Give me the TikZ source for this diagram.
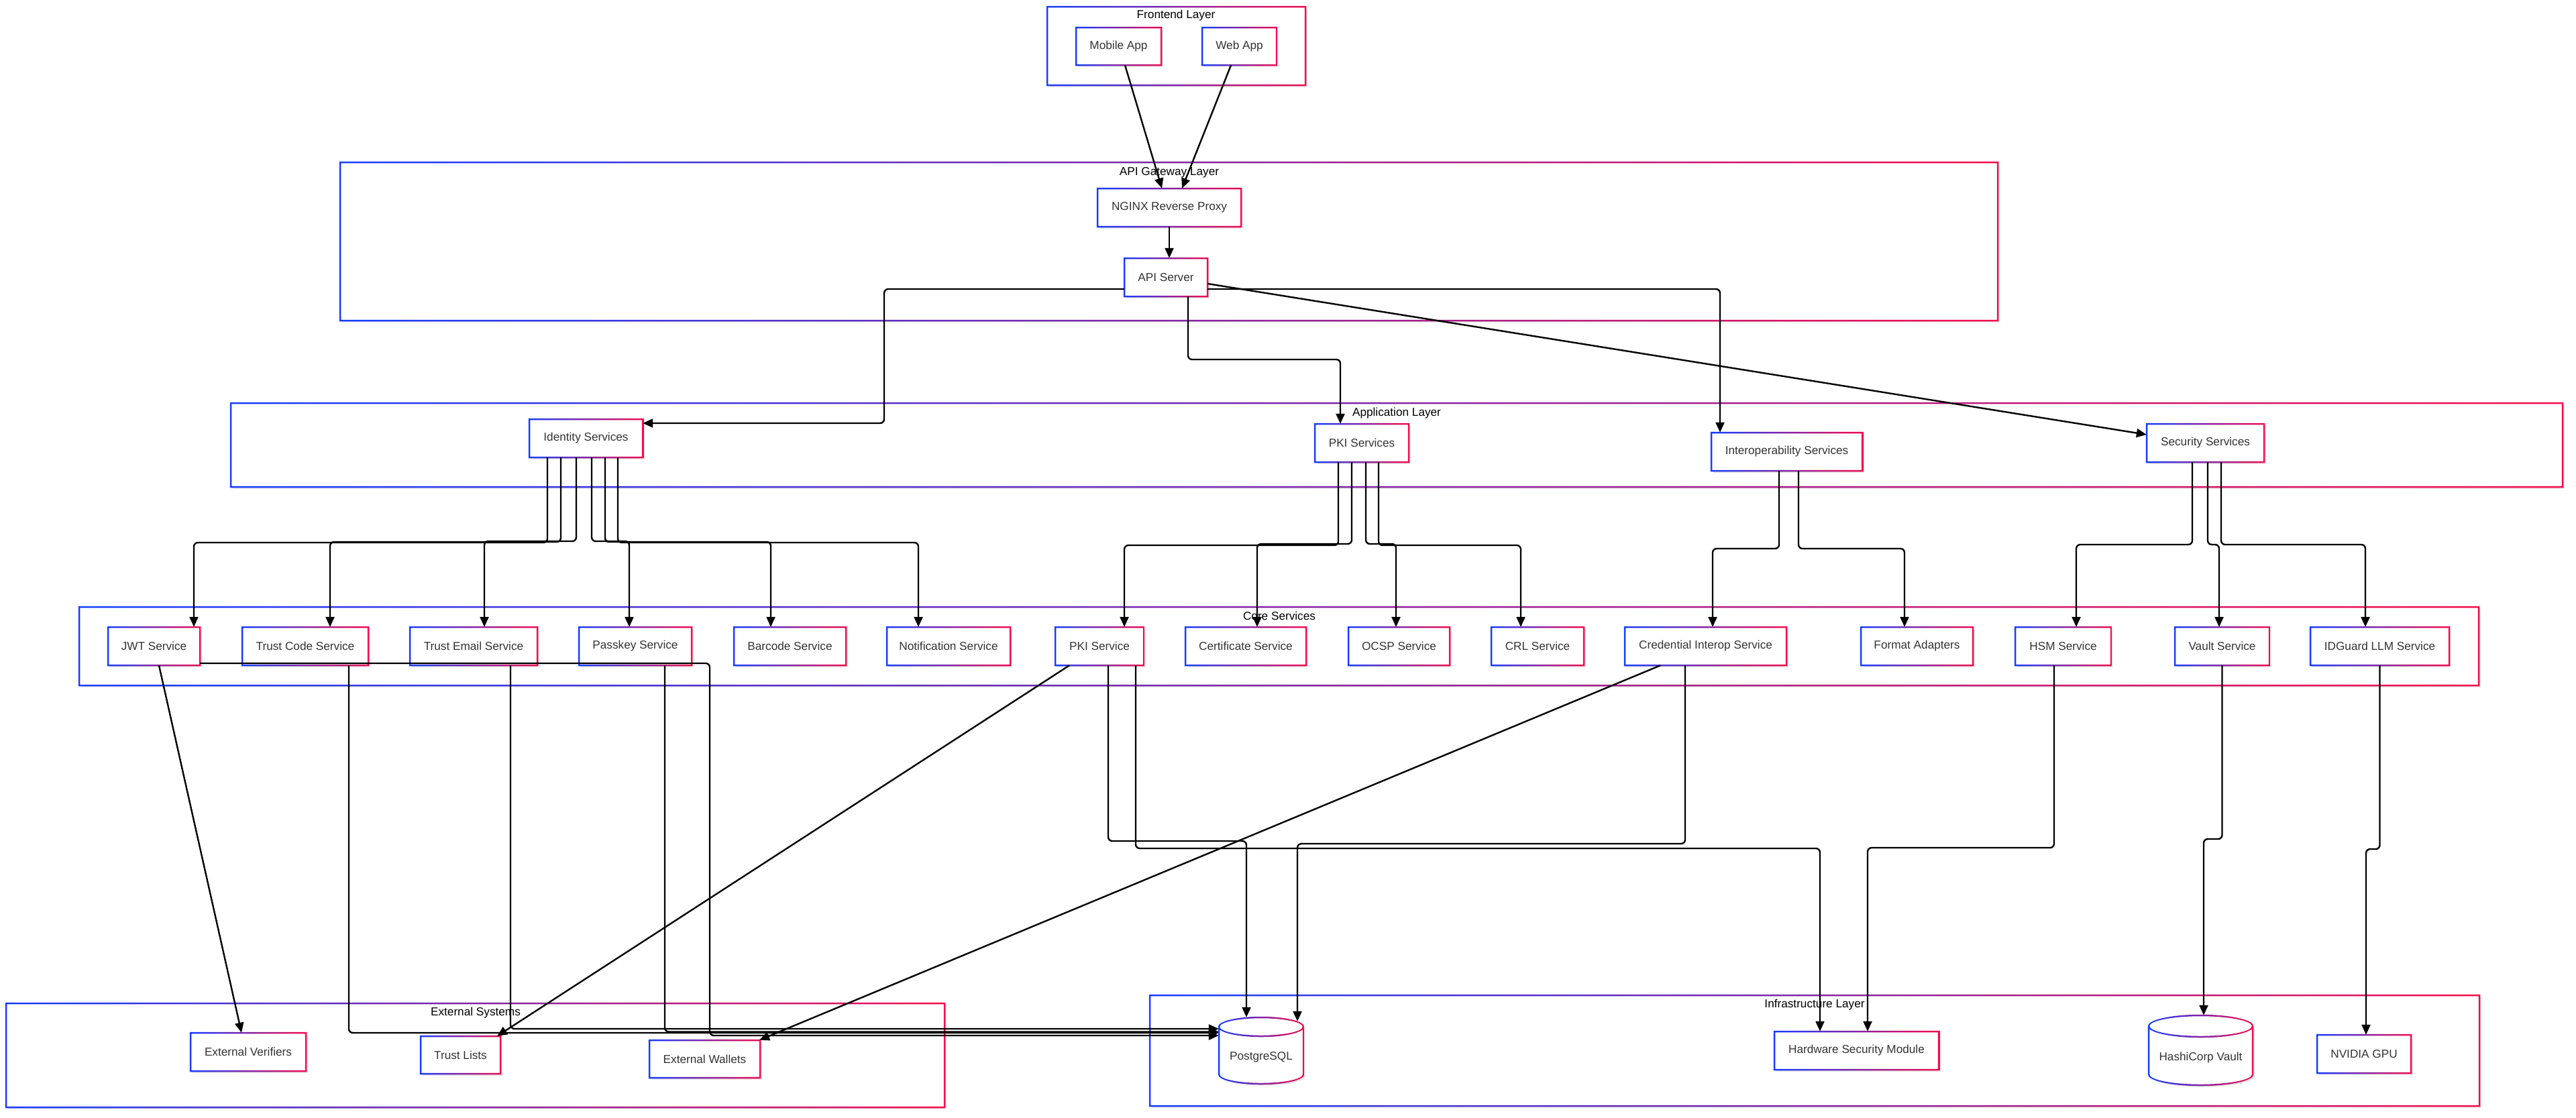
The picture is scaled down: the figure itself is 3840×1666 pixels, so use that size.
\documentclass[tikz,border=0pt]{standalone}
\usepackage{fontspec}
\newfontfamily\diagfont{Liberation Sans}
\usetikzlibrary{arrows.meta}
\definecolor{gblue}{RGB}{20,60,255}
\definecolor{gred}{RGB}{245,10,75}
\definecolor{txtgray}{RGB}{51,51,51}
\tikzset{
  gshade/.style={left color=gblue, right color=gred},
  boxtext/.style={inner sep=0pt, text=txtgray, font=\diagfont\fontsize{17.2}{20}\selectfont},
  titletext/.style={inner sep=0pt, text=black, font=\diagfont\fontsize{17.2}{20}\selectfont},
  conn/.style={draw=black, line width=2.4pt, rounded corners=6pt, -{Triangle[length=15pt,width=13pt]}},
  shadowfill/.style={fill=black!9},
}
% gradient ring round a rectangle: x1, y1, x2, y2
\newcommand\gring[4]{%
  \shade[gshade, even odd rule] (#1-1.25,#2-1.25) rectangle (#3+1.25,#4+1.25)
                                (#1+1.25,#2+1.25) rectangle (#3-1.25,#4-1.25);
}
% gradient-bordered box: name, x1, y1, x2, y2, text
\newcommand\gbox[6]{%
  \fill[shadowfill] (#2+3,#3+3) rectangle (#4+3,#5+3);
  \fill[white] (#2,#3) rectangle (#4,#5);
  \gring{#2}{#3}{#4}{#5}
  \node[boxtext, minimum width={(#4-#2)*1pt}, minimum height={(#5-#3)*1pt}] (#1) at ({(#2+#4)/2},{(#3+#5)/2}) {#6};
}
% group: name, x1, y1, x2, y2, title x, title y, title
\newcommand\ggroup[8]{%
  \fill[shadowfill] (#2+3,#3+3) rectangle (#4+3,#5+3);
  \fill[white] (#2,#3) rectangle (#4,#5);
  \gring{#2}{#3}{#4}{#5}
  \node[inner sep=0pt, minimum width={(#4-#2)*1pt}, minimum height={(#5-#3)*1pt}] (#1) at ({(#2+#4)/2},{(#3+#5)/2}) {};
  \node[titletext] (#1-title) at (#6,#7) {#8};
}
% cylinder: name, x1, y1, x2, y2, ry, text
\newcommand\gcyl[7]{%
  \pgfmathsetmacro\gcx{(#2+#4)/2}%
  \pgfmathsetmacro\grx{(#4-#2)/2}%
  \pgfmathsetmacro\gty{#3+#6}%
  \pgfmathsetmacro\gby{#5-#6}%
  \fill[shadowfill] (#2+3,\gty+3) -- (#2+3,\gby+3) arc[start angle=180,end angle=360,x radius=\grx pt,y radius=#6 pt] -- (#4+3,\gty+3) arc[start angle=0,end angle=180,x radius=\grx pt,y radius=#6 pt] -- cycle;
  \fill[white] (#2,\gty) -- (#2,\gby) arc[start angle=180,end angle=360,x radius=\grx pt,y radius=#6 pt] -- (#4,\gty) arc[start angle=0,end angle=180,x radius=\grx pt,y radius=#6 pt] -- cycle;
  \shade[gshade]
    (#2-1.25,\gty) -- (#2-1.25,\gby) arc[start angle=180,end angle=360,x radius=\grx pt+1.25pt,y radius=#6pt+1.25pt] -- (#4+1.25,\gty) arc[start angle=0,end angle=180,x radius=\grx pt+1.25pt,y radius=#6pt+1.25pt] -- cycle
    (#2+1.25,\gty) arc[start angle=180,end angle=0,x radius=\grx pt-1.25pt,y radius=#6pt-1.25pt] -- (#4-1.25,\gby) arc[start angle=360,end angle=180,x radius=\grx pt-1.25pt,y radius=#6pt-1.25pt] -- cycle
    (#2-1.25,\gty) arc[start angle=180,end angle=360,x radius=\grx pt+1.25pt,y radius=#6pt+1.25pt] -- (#4-1.25,\gty) arc[start angle=360,end angle=180,x radius=\grx pt-1.25pt,y radius=#6pt-1.25pt] -- cycle;
  \node[inner sep=0pt, minimum width={(#4-#2)*1pt}, minimum height={(#5-#3)*1pt}] (#1) at (\gcx,{(#3+#5)/2}) {};
  \node[boxtext] (#1-label) at ([yshift=-#6*0.68pt]#1.center) {#7};
}
\begin{document}
\begin{tikzpicture}[x=1pt,y=-1pt]
\useasboundingbox (0,0) rectangle (3840,1666);
\fill[white] (0,0) rectangle (3840,1666);

% groups
\ggroup{fe}{1561}{10}{1946}{127}{1753}{23}{Frontend Layer}
\ggroup{gw}{507}{242}{2978}{478}{1743}{257}{API Gateway Layer}
\ggroup{app}{344}{601}{3820}{726}{2082}{616}{Application Layer}
\ggroup{core}{118}{905}{3695}{1022}{1907}{918}{Core Services}
\ggroup{ext}{9}{1496}{1408}{1651}{709}{1510}{External Systems}
\ggroup{infra}{1714}{1484}{3696}{1649}{2705}{1498}{Infrastructure Layer}

% frontend / gateway
\gbox{mobile}{1604}{41}{1731}{97}{Mobile App}
\gbox{web}{1792}{41}{1903}{97}{Web App}
\gbox{nginx}{1636}{281}{1850}{338}{NGINX Reverse Proxy}
\gbox{api}{1676}{385}{1800}{442}{API Server}

% application layer
\gbox{idsvc}{789}{625}{958}{682}{Identity Services}
\gbox{pkis}{1960}{632}{2100}{689}{PKI Services}
\gbox{interop}{2551}{645}{2776}{702}{Interoperability Services}
\gbox{secs}{3200}{632}{3375}{689}{Security Services}

% core services
\gbox{jwt}{161}{935}{298}{992}{JWT Service}
\gbox{tcode}{361}{935}{549}{992}{Trust Code Service}
\gbox{temail}{611}{935}{801}{992}{Trust Email Service}
\gbox{passkey}{863}{935}{1031}{992}{Passkey Service}
\gbox{barcode}{1094}{935}{1261}{992}{Barcode Service}
\gbox{notif}{1322}{935}{1506}{992}{Notification Service}
\gbox{pkisvc}{1573}{935}{1705}{992}{PKI Service}
\gbox{cert}{1767}{935}{1947}{992}{Certificate Service}
\gbox{ocsp}{2010}{935}{2161}{992}{OCSP Service}
\gbox{crl}{2223}{935}{2361}{992}{CRL Service}
\gbox{credint}{2422}{935}{2663}{992}{Credential Interop Service}
\gbox{fmt}{2774}{935}{2941}{992}{Format Adapters}
\gbox{hsmsvc}{3004}{935}{3147}{992}{HSM Service}
\gbox{vaultsvc}{3242}{935}{3383}{992}{Vault Service}
\gbox{idguard}{3444}{935}{3651}{992}{IDGuard LLM Service}

% external systems
\gbox{extver}{284}{1540}{456}{1597}{External Verifiers}
\gbox{tlists}{627}{1545}{746}{1601}{Trust Lists}
\gbox{extwal}{968}{1551}{1133}{1607}{External Wallets}

% infrastructure
\gcyl{pg}{1817}{1517}{1943}{1616}{14}{PostgreSQL}
\gbox{hsm}{2645}{1538}{2890}{1595}{Hardware Security Module}
\gcyl{hvault}{3203}{1514}{3358}{1618}{16}{HashiCorp Vault}
\gbox{gpu}{3454}{1543}{3594}{1600}{NVIDIA GPU}

% connectors: top
\draw[conn] ([xshift=9.5pt]mobile.south) -- ([xshift=-11pt]nginx.north);
\draw[conn] ([xshift=-12.5pt]web.south) -- ([xshift=19pt]nginx.north);
\draw[conn] (nginx.south) -- (nginx.south |- api.north);
\draw[conn] ([yshift=-17.5pt]api.west) -| (1318,631) -- ([yshift=22.5pt]idsvc.east);
\draw[conn] ([xshift=33pt]api.south) |- (1998,536) -- ([xshift=-32pt]pkis.north);
\draw[conn] ([yshift=-17.5pt]api.east) -| ([xshift=-99.5pt]interop.north);
\draw[conn] ([yshift=-9.5pt]api.east) -- ([yshift=12.5pt]secs.west);

% identity fan
\draw[conn] ([xshift=-57.5pt]idsvc.south) |- (289,809) -- ([xshift=59.5pt]jwt.north);
\draw[conn] ([xshift=-37.5pt]idsvc.south) |- (492,808) -- ([xshift=37pt]tcode.north);
\draw[conn] ([xshift=-14.5pt]idsvc.south) |- (722,807) -- ([xshift=16pt]temail.north);
\draw[conn] ([xshift=8.5pt]idsvc.south) |- (938,807) -- ([xshift=-9pt]passkey.north);
\draw[conn] ([xshift=28.5pt]idsvc.south) |- (1149,808) -- ([xshift=-28.5pt]barcode.north);
\draw[conn] ([xshift=47.5pt]idsvc.south) |- (1369,809) -- ([xshift=-45pt]notif.north);

% pki fan
\draw[conn] ([xshift=-35pt]pkis.south) |- (1676,813) -- ([xshift=37pt]pkisvc.north);
\draw[conn] ([xshift=-15pt]pkis.south) |- (1874,811) -- ([xshift=17pt]cert.north);
\draw[conn] ([xshift=6pt]pkis.south) |- (2081,811) -- ([xshift=-4.5pt]ocsp.north);
\draw[conn] ([xshift=25pt]pkis.south) |- (2267,813) -- ([xshift=-25pt]crl.north);

% interop fan
\draw[conn] ([xshift=-11.5pt]interop.south) |- (2553,818) -- ([xshift=10.5pt]credint.north);
\draw[conn] ([xshift=17.5pt]interop.south) |- (2839,818) -- ([xshift=-18.5pt]fmt.north);

% security fan
\draw[conn] ([xshift=-19.5pt]secs.south) |- (3095,812) -- ([xshift=19.5pt]hsmsvc.north);
\draw[conn] ([xshift=3.5pt]secs.south) |- (3308,812) -- ([xshift=-4.5pt]vaultsvc.north);
\draw[conn] ([xshift=23.5pt]secs.south) |- (3526,812) -- ([xshift=-21.5pt]idguard.north);

% bottom connectors
\draw[conn] ([xshift=7.5pt]jwt.south) -- ([xshift=-10pt]extver.north);
\draw[conn] ([yshift=-25.5pt]jwt.east) -| (1058,1544) -- ([yshift=22.5pt]pg.west);
\draw[conn] ([xshift=65pt]tcode.south) |- ([yshift=26.5pt]pg.west);
\draw[conn] ([xshift=55pt]temail.south) |- ([yshift=32.5pt]pg.west);
\draw[conn] ([xshift=44pt]passkey.south) |- ([yshift=28pt]pg.west);
\draw[conn] ([xshift=-45pt]pkisvc.south) -- ([xshift=54.5pt]tlists.north);
\draw[conn] ([xshift=13pt]pkisvc.south) |- (1858,1254) -- ([xshift=-22pt]pg.north);
\draw[conn] ([xshift=54pt]pkisvc.south) |- (2713,1265) -- ([xshift=-54.5pt]hsm.north);
\draw[conn] ([xshift=-30.5pt]credint.south) |- (1934,1258) -- ([xshift=54pt,yshift=-6pt]pg.north);
\draw[conn] ([xshift=-67.5pt]credint.south) -- ([xshift=81.5pt]extwal.north);
\draw[conn] ([xshift=-13.5pt]hsmsvc.south) |- (2784,1264) -- ([xshift=16.5pt]hsm.north);
\draw[conn] (vaultsvc.south) |- (3285,1251) -- ([xshift=4.5pt]hvault.north);
\draw[conn] (idguard.south) |- (3527,1266) -- ([xshift=3pt]gpu.north);
\end{tikzpicture}
\end{document}
